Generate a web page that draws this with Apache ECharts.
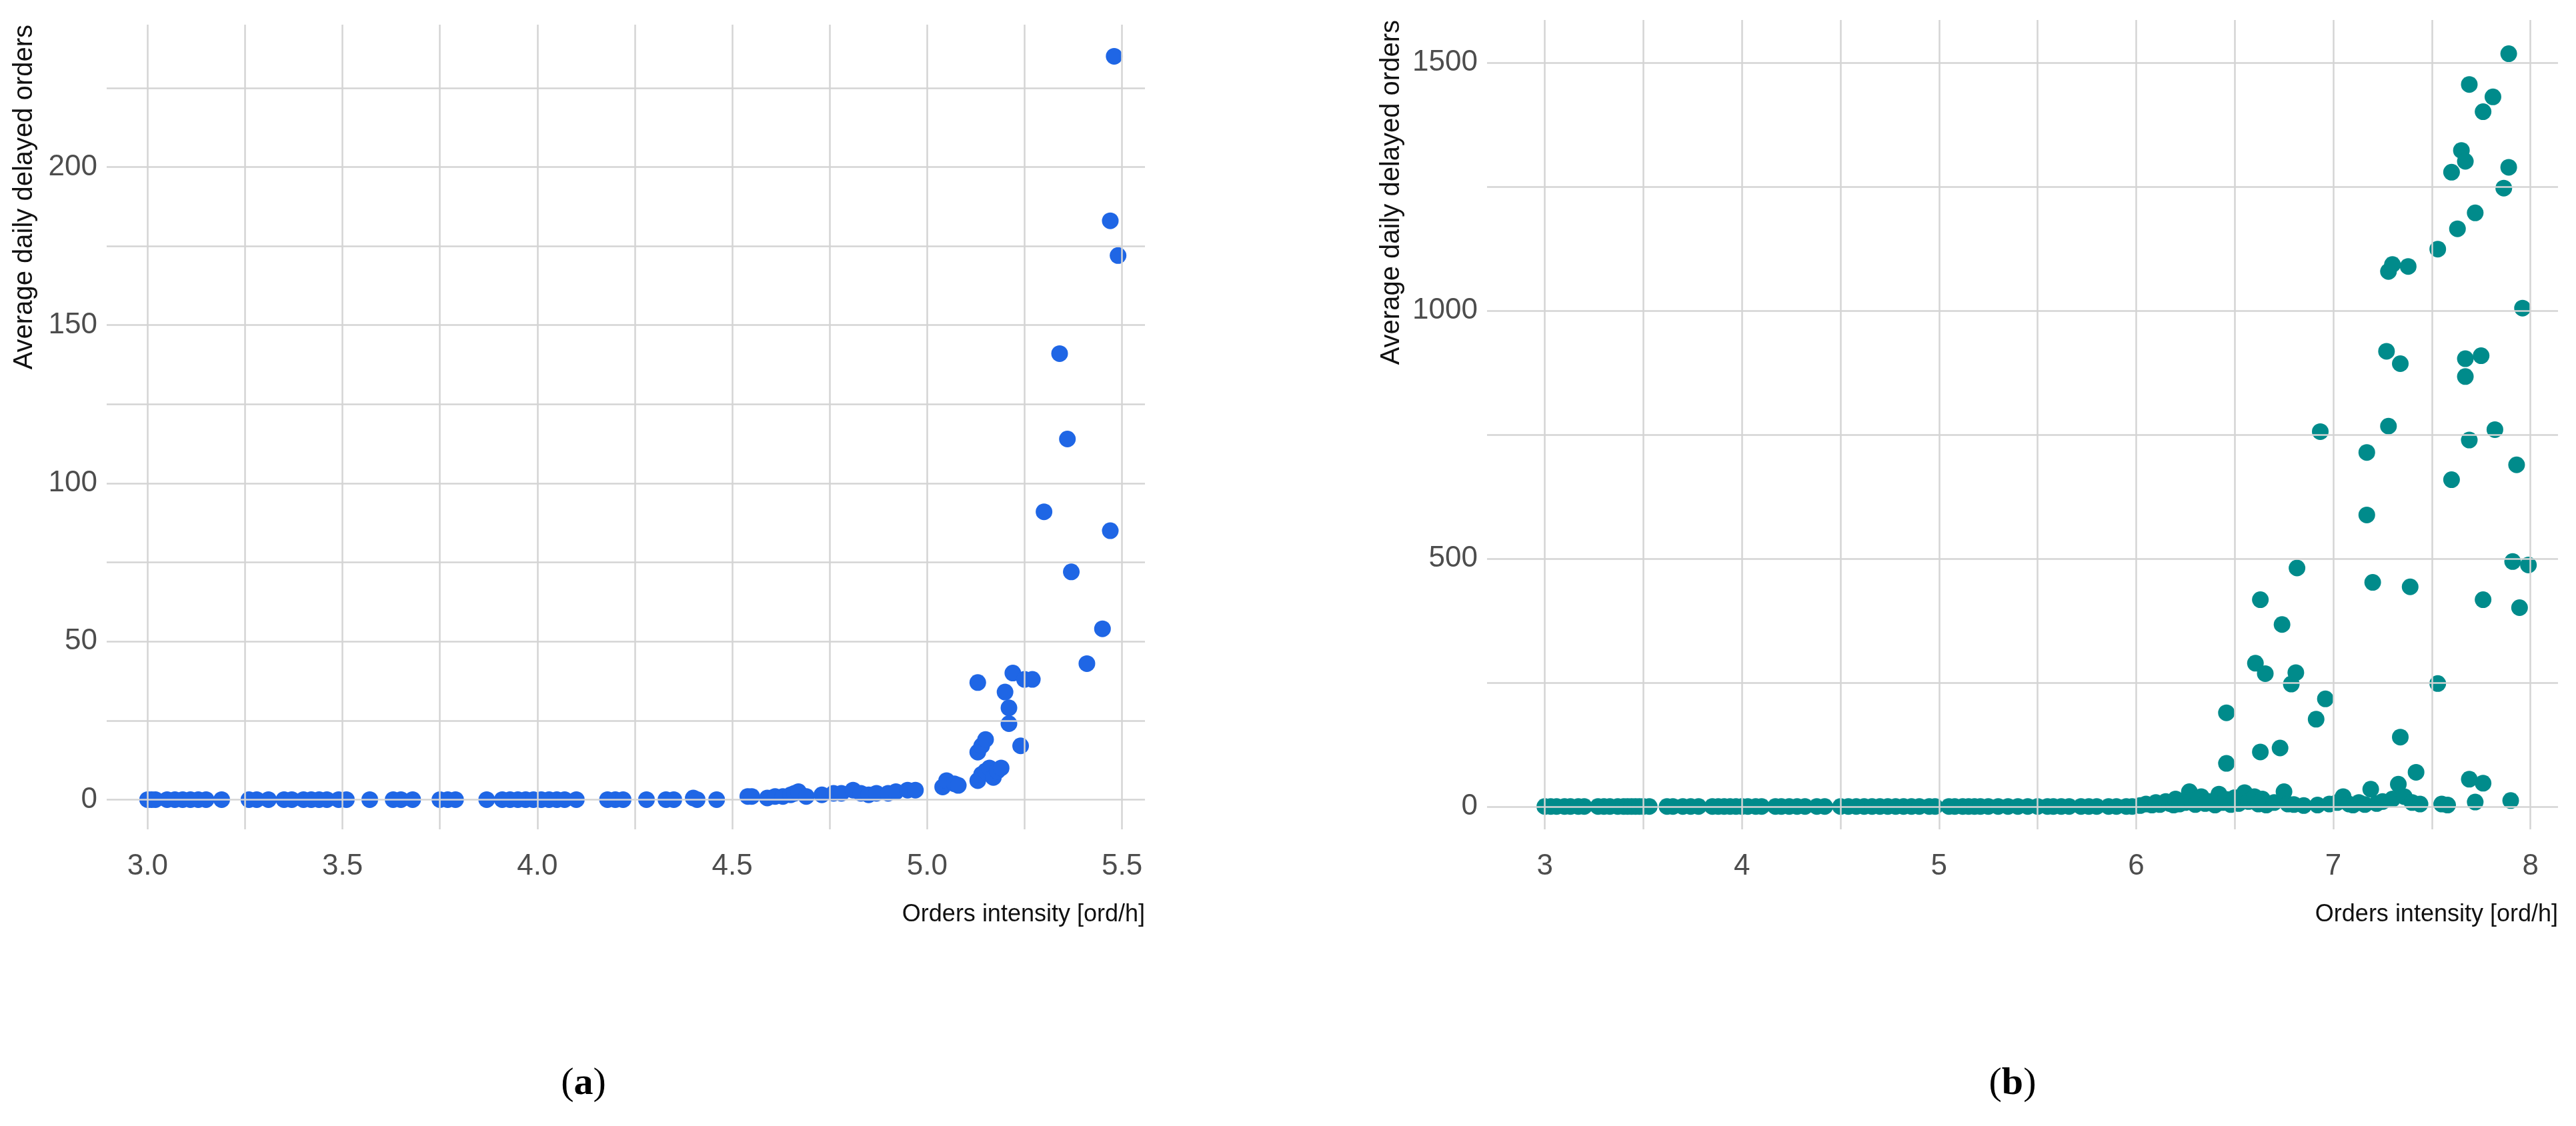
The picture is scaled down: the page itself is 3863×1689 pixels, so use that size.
<!DOCTYPE html>
<html>
<head>
<meta charset="utf-8">
<script src="https://cdn.jsdelivr.net/npm/echarts@6/dist/echarts.min.js"></script>
<style>html,body{margin:0;padding:0;background:#fff}#chart{width:3863px;height:1689px}</style>
</head>
<body>
<div id="chart"></div>
<script>
// (a) data: [intensity, delayed orders]
var dataA = [
  [3.0,0],[3.01,0],[3.02,0],[3.05,0],[3.07,0],[3.09,0],[3.11,0],[3.13,0],[3.15,0],[3.19,0],
  [3.26,0],[3.28,0],[3.31,0],[3.35,0],[3.37,0],[3.40,0],[3.42,0],[3.44,0],[3.46,0],[3.49,0],
  [3.51,0],[3.57,0],[3.63,0],[3.65,0],[3.68,0],[3.75,0],[3.77,0],[3.79,0],[3.87,0],[3.91,0],
  [3.93,0],[3.95,0],[3.97,0],[3.99,0],[4.01,0],[4.03,0],[4.05,0],[4.07,0],[4.10,0],[4.18,0],
  [4.20,0],[4.22,0],[4.28,0],[4.33,0],[4.35,0],[4.40,0.5],[4.41,0],[4.46,0],
  [4.54,1],[4.55,1],[4.59,0.5],[4.61,1],[4.63,1],[4.65,1.5],[4.66,2],[4.67,2.5],[4.69,1],
  [4.73,1.5],[4.76,2],[4.78,2],[4.81,3],[4.83,2],[4.85,1.5],[4.87,2],[4.90,2],[4.92,2.5],
  [4.95,3],[4.97,3],[5.04,4],[5.05,6],[5.07,5],[5.08,4.5],[5.13,6],[5.14,8],[5.15,9],
  [5.16,10],[5.17,7],[5.18,9],[5.19,10],[5.13,15],[5.14,17],[5.15,19],[5.13,37],[5.20,34],
  [5.21,29],[5.21,24],[5.22,40],[5.24,17],[5.25,38],[5.27,38],[5.30,91],[5.34,141],
  [5.36,114],[5.37,72],[5.41,43],[5.45,54],[5.47,85],[5.47,183],[5.48,235],[5.49,172]
];
// (b) data
var dataB = [
  [3.0,0],[3.03,0],[3.06,0],[3.1,0],[3.13,0],[3.17,0],[3.2,0],[3.27,0],[3.3,0],[3.33,0],
  [3.37,0],[3.4,0],[3.42,0],[3.44,0],[3.46,0],[3.48,0],[3.5,0],[3.53,0],[3.62,0],[3.65,0],
  [3.7,0],[3.74,0],[3.78,0],[3.85,0],[3.88,0],[3.91,0],[3.94,0],[3.97,0],[4.0,0],[4.03,0],
  [4.07,0],[4.1,0],[4.17,0],[4.2,0],[4.24,0],[4.28,0],[4.32,0],[4.38,0],[4.42,0],[4.5,0],
  [4.54,0],[4.58,0],[4.62,0],[4.66,0],[4.7,0],[4.74,0],[4.78,0],[4.82,0],[4.86,0],[4.9,0],
  [4.95,0],[4.98,0],[5.05,0],[5.08,0],[5.12,0],[5.15,0],[5.18,0],[5.21,0],[5.25,0],[5.3,0],
  [5.35,0],[5.4,0],[5.45,0],[5.5,0],[5.55,0],[5.58,0],[5.62,0],[5.66,0],[5.72,0],[5.76,0],
  [5.8,0],[5.86,0],[5.9,0],[5.95,0],[5.98,0],
  [6.02,2],[6.05,5],[6.08,3],[6.10,8],[6.12,4],[6.15,10],[6.17,6],[6.19,3],[6.2,15],[6.22,5],
  [6.25,8],[6.27,30],[6.28,12],[6.3,4],[6.33,20],[6.35,6],[6.37,10],[6.4,3],[6.42,25],[6.44,8],
  [6.46,14],[6.48,4],[6.5,18],[6.52,6],[6.55,28],[6.57,10],[6.6,20],[6.62,5],[6.64,15],[6.66,3],
  [6.7,8],[6.75,30],[6.77,5],[6.8,4],[6.85,2],[6.92,3],[6.98,5],[7.02,8],[7.05,20],[7.08,5],
  [7.1,3],[7.13,8],[7.16,4],[7.19,35],[7.22,6],[7.25,10],[7.3,15],[7.33,45],[7.36,20],[7.4,8],
  [7.44,5],[7.55,5],[7.58,3],
  [6.458,189],[6.458,87],[6.63,417],[6.605,289],[6.655,268],[6.63,110],[6.73,118],[6.74,367],
  [6.787,247],[6.81,270],[6.816,481],[6.913,176],[6.934,756],[6.96,217],[7.17,714],[7.17,588],
  [7.20,452],[7.27,918],[7.28,767],[7.28,1079],[7.30,1093],[7.34,893],[7.34,140],[7.38,1089],
  [7.39,443],[7.42,69],[7.53,1124],[7.53,248],[7.60,1279],[7.60,659],[7.63,1165],[7.65,1323],
  [7.67,1301],[7.67,903],[7.67,867],[7.69,55],[7.69,1456],[7.69,739],[7.72,1197],[7.75,909],
  [7.76,417],[7.76,1401],[7.76,47],[7.81,1431],[7.82,760],[7.865,1247],[7.89,1289],[7.89,1518],
  [7.90,12],[7.91,494],[7.93,689],[7.945,401],[7.96,1005],[7.99,487],[7.72,9]
];
var xTicksA = [3.0, 3.5, 4.0, 4.5, 5.0, 5.5];
var xMinorA = [3.25, 3.75, 4.25, 4.75, 5.25];
var yTicksA = [0, 50, 100, 150, 200];
var yMinorA = [25, 75, 125, 175, 225];
var xTicksB = [3, 4, 5, 6, 7, 8];
var xMinorB = [3.5, 4.5, 5.5, 6.5, 7.5];
var yTicksB = [0, 500, 1000, 1500];
var yMinorB = [250, 750, 1250];

var gridColor = '#d4d4d4';
var labelStyle = {color: '#4d4d4d', fontSize: 44, fontFamily: 'Liberation Sans Narrow, Liberation Sans, sans-serif'};

function gridLines(xs, ys, idx) {
    var d = [];
    xs.forEach(function (v) { d.push({xAxis: v}); });
    ys.forEach(function (v) { d.push({yAxis: v}); });
    return {
        type: 'scatter', xAxisIndex: idx, yAxisIndex: idx, data: [], silent: true, z: 1,
        markLine: {silent: true, symbol: 'none', label: {show: false},
            lineStyle: {color: gridColor, width: 2.5, type: 'solid'}, animation: false, data: d}
    };
}
function plain(v) { return String(v); }

var chart = echarts.init(document.getElementById('chart'));
chart.setOption({
    animation: false,
    grid: [
        {left: 160, right: 3863 - 1717, top: 37, bottom: 1689 - 1244},
        {left: 2230, right: 3863 - 3836, top: 30, bottom: 1689 - 1244}
    ],
    xAxis: [
        {type: 'value', gridIndex: 0, min: 2.895, max: 5.559,
         axisLine: {show: false}, axisTick: {show: false}, splitLine: {show: false},
         axisLabel: Object.assign({customValues: xTicksA, margin: 34,
             formatter: function (v) { return v.toFixed(1); }}, labelStyle)},
        {type: 'value', gridIndex: 1, min: 2.707, max: 8.14,
         axisLine: {show: false}, axisTick: {show: false}, splitLine: {show: false},
         axisLabel: Object.assign({customValues: xTicksB, margin: 34, formatter: plain}, labelStyle)}
    ],
    yAxis: [
        {type: 'value', gridIndex: 0, min: -9.4, max: 245,
         axisLine: {show: false}, axisTick: {show: false}, splitLine: {show: false},
         axisLabel: Object.assign({customValues: yTicksA, margin: 14, formatter: plain}, labelStyle)},
        {type: 'value', gridIndex: 1, min: -46, max: 1586,
         axisLine: {show: false}, axisTick: {show: false}, splitLine: {show: false},
         axisLabel: Object.assign({customValues: yTicksB, margin: 14, formatter: plain}, labelStyle)}
    ],
    series: [
        gridLines(xTicksA.concat(xMinorA), yTicksA.concat(yMinorA), 0),
        gridLines(xTicksB.concat(xMinorB), yTicksB.concat(yMinorB), 1),
        {type: 'scatter', xAxisIndex: 0, yAxisIndex: 0, data: dataA, symbolSize: 25, z: 3,
         itemStyle: {color: '#1f66e5', opacity: 1}},
        {type: 'scatter', xAxisIndex: 1, yAxisIndex: 1, data: dataB, symbolSize: 25, z: 3,
         itemStyle: {color: '#008b8b', opacity: 1}}
    ],
    graphic: [
        {type: 'text', x: 37, y: 37, rotation: Math.PI / 2,
         style: {text: 'Average daily delayed orders', fontSize: 40, fill: '#111',
                 fontFamily: 'Liberation Sans, sans-serif', align: 'right', verticalAlign: 'middle'}},
        {type: 'text', x: 2087, y: 30, rotation: Math.PI / 2,
         style: {text: 'Average daily delayed orders', fontSize: 40, fill: '#111',
                 fontFamily: 'Liberation Sans, sans-serif', align: 'right', verticalAlign: 'middle'}},
        {type: 'text', x: 1717, y: 1372,
         style: {text: 'Orders intensity [ord/h]', fontSize: 36, fill: '#111',
                 fontFamily: 'Liberation Sans Narrow, Liberation Sans, sans-serif', align: 'right', verticalAlign: 'middle'}},
        {type: 'text', x: 3836, y: 1372,
         style: {text: 'Orders intensity [ord/h]', fontSize: 36, fill: '#111',
                 fontFamily: 'Liberation Sans Narrow, Liberation Sans, sans-serif', align: 'right', verticalAlign: 'middle'}},
        {type: 'text', x: 875, y: 1626,
         style: {text: '({b|a})', fontSize: 58, fill: '#000', fontFamily: 'Liberation Serif, serif',
                 align: 'center', verticalAlign: 'middle',
                 rich: {b: {fontSize: 58, fontWeight: 'bold', fontFamily: 'Liberation Serif, serif'}}}},
        {type: 'text', x: 3018, y: 1626,
         style: {text: '({b|b})', fontSize: 58, fill: '#000', fontFamily: 'Liberation Serif, serif',
                 align: 'center', verticalAlign: 'middle',
                 rich: {b: {fontSize: 58, fontWeight: 'bold', fontFamily: 'Liberation Serif, serif'}}}}
    ]
});
</script>
</body>
</html>
